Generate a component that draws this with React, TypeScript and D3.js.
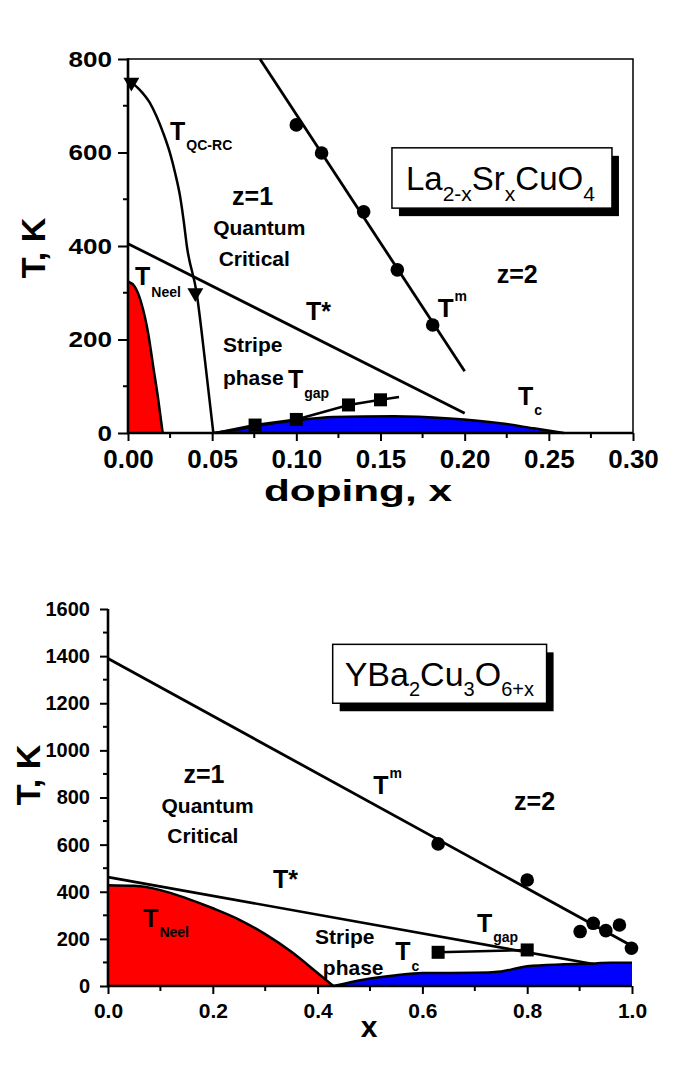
import React, { useEffect, useRef } from "react";
import * as d3 from "d3";

type Pt = [number, number];

// ---------- La2-xSrxCuO4 (top panel) ----------
const lscoTQC: Pt[] = [
  [0.002, 750], [0.007, 734], [0.013, 706], [0.017, 677], [0.021, 641], [0.025, 598],
  [0.028, 556], [0.031, 505], [0.033, 456], [0.035, 399], [0.0408, 299], [0.0457, 156], [0.0507, 0],
];
const lscoTQCMarkers: Pt[] = [[0.002, 750], [0.04, 300]];
const lscoNeel: Pt[] = [
  [0, 324], [0.004, 313], [0.008, 277], [0.012, 213], [0.015, 142], [0.018, 71], [0.0206, 0],
];
const lscoTc: Pt[] = [
  [0.05, 0], [0.0626, 6], [0.0744, 14], [0.1, 27], [0.122, 34], [0.158, 36], [0.191, 31],
  [0.221, 21], [0.241, 10], [0.259, 0],
];
const lscoTgapLine: Pt[] = [[0.052, 0], [0.0755, 17], [0.1, 29], [0.131, 60], [0.15, 71], [0.161, 77]];
const lscoTgapSquares: Pt[] = [[0.0755, 17], [0.1, 29], [0.131, 60], [0.15, 71]];
const lscoTmLine: Pt[] = [[0.0784, 800], [0.2, 132]];
const lscoTmCircles: Pt[] = [[0.1, 659], [0.115, 599], [0.14, 473], [0.16, 349], [0.181, 231]];
const lscoTstar: Pt[] = [[0, 405], [0.2, 42]];
const lscoXTicks = [0, 0.05, 0.1, 0.15, 0.2, 0.25, 0.3];
const lscoXTickLabels = ["0.00", "0.05", "0.10", "0.15", "0.20", "0.25", "0.30"];
const lscoXMinor = [0.025, 0.075, 0.125, 0.175, 0.225, 0.275];
const lscoYTicks = [0, 200, 400, 600, 800];
const lscoYTickLabels = ["0", "200", "400", "600", "800"];
const lscoYMinor = [100, 300, 500, 700];

// ---------- YBa2Cu3O6+x (bottom panel) ----------
const ybcoNeel: Pt[] = [
  [0, 428], [0.05, 425], [0.1, 407], [0.15, 372], [0.2, 330], [0.25, 282], [0.3, 220],
  [0.35, 145], [0.4, 55], [0.43, 0],
];
const ybcoTc: Pt[] = [
  [0.43, 0], [0.49, 28], [0.55, 46], [0.6, 55], [0.7, 56], [0.75, 62], [0.78, 75], [0.8, 84],
  [0.87, 92], [0.93, 96], [0.96, 99], [1.0, 99],
];
const ybcoTmLine: Pt[] = [[0, 1390], [1.0, 170]];
const ybcoTmCircles: Pt[] = [
  [0.63, 603], [0.8, 450], [0.901, 231], [0.926, 266], [0.95, 235], [0.976, 259], [0.999, 160],
];
const ybcoTstar: Pt[] = [[0, 462], [0.926, 93]];
const ybcoTgapSquares: Pt[] = [[0.63, 143], [0.8, 153]];
const ybcoXTicks = [0, 0.2, 0.4, 0.6, 0.8, 1.0];
const ybcoXTickLabels = ["0.0", "0.2", "0.4", "0.6", "0.8", "1.0"];
const ybcoXMinor = [0.1, 0.3, 0.5, 0.7, 0.9];
const ybcoYTicks = [0, 200, 400, 600, 800, 1000, 1200, 1400, 1600];
const ybcoYTickLabels = ["0", "200", "400", "600", "800", "1000", "1200", "1400", "1600"];
const ybcoYMinor = [100, 300, 500, 700, 900, 1100, 1300, 1500];

const FONT = "'Liberation Sans', Arial, Helvetica, sans-serif";

// scales
const xTop = d3.scaleLinear().domain([0, 0.3]).range([128, 633]);
const yTop = d3.scaleLinear().domain([0, 800]).range([433, 59]);
const xBot = d3.scaleLinear().domain([0, 1]).range([108, 632]);
const yBot = d3.scaleLinear().domain([0, 1600]).range([986, 609]);

type Sc = d3.ScaleLinear<number, number>;

function Axes({ x, y, xt, xl, xm, yt, yl, ym, xFont, yFont, yStretch, yMajor, yPad, frame }: any) {
  const ref = useRef<SVGGElement>(null);
  useEffect(() => {
    const g = d3.select(ref.current!);
    g.selectAll("*").remove();
    const [x0, x1] = x.range();
    const [y0, y1] = y.range();
    const xa = d3
      .axisBottom(x)
      .tickValues(xt)
      .tickFormat((_d: any, i: number) => xl[i])
      .tickSize(8)
      .tickPadding(9)
      .tickSizeOuter(0);
    const gx = g.append("g").attr("transform", `translate(0,${y0})`).call(xa as any);
    gx.select(".domain").remove();
    gx.selectAll("line").attr("stroke", "#000").attr("stroke-width", 2);
    gx.selectAll("text")
      .attr("font-family", FONT)
      .attr("font-weight", "bold")
      .attr("font-size", xFont)
      .attr("fill", "#000");
    g.append("g")
      .selectAll("line")
      .data(xm)
      .join("line")
      .attr("x1", (d: any) => x(d))
      .attr("x2", (d: any) => x(d))
      .attr("y1", y0)
      .attr("y2", y0 + 5)
      .attr("stroke", "#000")
      .attr("stroke-width", 2);

    const ya = d3
      .axisLeft(y)
      .tickValues(yt)
      .tickFormat((_d: any, i: number) => yl[i])
      .tickSize(yMajor)
      .tickPadding(yPad)
      .tickSizeOuter(0);
    const gy = g.append("g").attr("transform", `translate(${x0},0)`).call(ya as any);
    gy.select(".domain").remove();
    gy.selectAll("line").attr("stroke", "#000").attr("stroke-width", 2);
    const yt2 = gy
      .selectAll("text")
      .attr("font-family", FONT)
      .attr("font-weight", "bold")
      .attr("font-size", yFont)
      .attr("fill", "#000");
    if (yStretch) {
      yt2.attr("textLength", (_d: any, i: number) => yl[i].length * yStretch).attr("lengthAdjust", "spacingAndGlyphs");
    }
    g.append("g")
      .selectAll("line")
      .data(ym)
      .join("line")
      .attr("x1", x0)
      .attr("x2", x0 - 5)
      .attr("y1", (d: any) => y(d))
      .attr("y2", (d: any) => y(d))
      .attr("stroke", "#000")
      .attr("stroke-width", 2);

    if (frame) {
      g.append("path")
        .attr("d", `M${x0},${y1}H${x1}V${y0}`)
        .attr("fill", "none")
        .attr("stroke", "#000")
        .attr("stroke-width", 1.5);
    }
    g.append("path")
      .attr("d", `M${x0},${y1 - (frame ? 0.75 : 0)}V${y0}H${x1}`)
      .attr("fill", "none")
      .attr("stroke", "#000")
      .attr("stroke-width", 2.6);
  }, []);
  return <g ref={ref} />;
}

function Label({ x, y, main, sub, sup, size = 25, subSize = 14, subDx = 1, subDy = 10, supDy = -16, anchor = "start" }: any) {
  return (
    <text x={x} y={y} fontFamily={FONT} fontWeight="bold" fontSize={size} textAnchor={anchor} fill="#000">
      {main}
      {sub && (
        <tspan fontSize={subSize} dx={subDx} dy={subDy}>
          {sub}
        </tspan>
      )}
      {sup && (
        <tspan fontSize={subSize} dx={subDx} dy={supDy}>
          {sup}
        </tspan>
      )}
    </text>
  );
}

function Box({ x0, y0, x1, y1, children }: any) {
  return (
    <g>
      <rect x={x0 + 7} y={y0 + 8} width={x1 - x0} height={y1 - y0} fill="#000" />
      <rect x={x0} y={y0} width={x1 - x0} height={y1 - y0} fill="#fff" stroke="#000" strokeWidth={1.5} />
      {children}
    </g>
  );
}

export default function App() {
  const lineT = (x: Sc, y: Sc, c: any = d3.curveLinear) =>
    d3.line<Pt>().x((d) => x(d[0])).y((d) => y(d[1])).curve(c);
  const areaT = (x: Sc, y: Sc, c: any = d3.curveLinear) =>
    d3.area<Pt>().x((d) => x(d[0])).y0(y(0)).y1((d) => y(d[1])).curve(c);
  const tri = d3.symbol().type(d3.symbolTriangle).size(110)();
  const sq = 13;

  return (
    <svg
      width={686}
      height={1066}
      style={{ position: "absolute", left: 0, top: 0, background: "#fff" }}
      xmlns="http://www.w3.org/2000/svg"
    >
      <rect width={686} height={1066} fill="#fff" />
      {/* ---------------- Top panel ---------------- */}
      <path d={areaT(xTop, yTop, d3.curveMonotoneX)(lscoNeel)!} fill="#ff0000" />
      <path d={lineT(xTop, yTop, d3.curveMonotoneX)(lscoNeel)!} fill="none" stroke="#000" strokeWidth={2.5} />
      <path d={areaT(xTop, yTop, d3.curveMonotoneX)(lscoTc)!} fill="#0000ff" />
      <path d={lineT(xTop, yTop, d3.curveMonotoneX)(lscoTc)!} fill="none" stroke="#000" strokeWidth={2.5} />
      <path d={lineT(xTop, yTop, d3.curveMonotoneX)(lscoTQC)!} fill="none" stroke="#000" strokeWidth={2.5} />
      <path d={lineT(xTop, yTop)(lscoTstar)!} fill="none" stroke="#000" strokeWidth={2.8} />
      <path d={lineT(xTop, yTop)(lscoTmLine)!} fill="none" stroke="#000" strokeWidth={2.8} />
      <path d={lineT(xTop, yTop)(lscoTgapLine)!} fill="none" stroke="#000" strokeWidth={2.5} />
      {lscoTmCircles.map((d, i) => (
        <circle key={"tc" + i} cx={xTop(d[0])} cy={yTop(d[1])} r={6.8} fill="#000" />
      ))}
      {lscoTgapSquares.map((d, i) => (
        <rect key={"ts" + i} x={xTop(d[0]) - sq / 2} y={yTop(d[1]) - sq / 2} width={sq} height={sq} fill="#000" />
      ))}
      {lscoTQCMarkers.map((d, i) => (
        <path key={"tt" + i} d={tri!} transform={`translate(${xTop(d[0])},${yTop(d[1])}) rotate(180)`} fill="#000" />
      ))}
      <Axes
        x={xTop}
        y={yTop}
        xt={lscoXTicks}
        xl={lscoXTickLabels}
        xm={lscoXMinor}
        yt={lscoYTicks}
        yl={lscoYTickLabels}
        ym={lscoYMinor}
        xFont={26}
        yFont={22}
        yStretch={14.5}
        yMajor={10}
        yPad={6}
        frame={true}
      />
      <Label x={xTop(0.025)} y={yTop(627)} main="T" sub="QC-RC" />
      <Label x={xTop(0.074)} y={yTop(488)} main="z=1" anchor="middle" />
      <Label x={xTop(0.078)} y={yTop(424)} main="Quantum" size={21} anchor="middle" />
      <Label x={xTop(0.075)} y={yTop(357)} main="Critical" size={21} anchor="middle" />
      <Label x={xTop(0.0042)} y={yTop(317)} main="T" sub="Neel" subDy={12} />
      <Label x={xTop(0.1057)} y={yTop(242)} main="T*" />
      <Label x={xTop(0.0564)} y={yTop(173)} main="Stripe" size={21} />
      <Label x={xTop(0.0564)} y={yTop(103)} main="phase" size={21} />
      <Label x={xTop(0.095)} y={yTop(96)} main="T" sub="gap" />
      <Label x={xTop(0.184)} y={yTop(248)} main="T" sup="m" size={26} />
      <Label x={xTop(0.219)} y={yTop(321)} main="z=2" />
      <Label x={xTop(0.2317)} y={yTop(60)} main="T" sub="c" />
      <Box x0={xTop(0.1568)} y0={yTop(610)} x1={xTop(0.2875)} y1={yTop(481)}>
        <text x={xTop(0.1568) + 14} y={yTop(520)} fontFamily={FONT} fontSize={33} fill="#000">
          La
          <tspan fontSize={21} dy={11}>2-x</tspan>
          <tspan dy={-11}>Sr</tspan>
          <tspan fontSize={21} dy={11}>x</tspan>
          <tspan dy={-11}>CuO</tspan>
          <tspan fontSize={21} dy={11}>4</tspan>
        </text>
      </Box>
      <text
        transform="translate(45,248) rotate(-90)"
        textAnchor="middle"
        fontFamily={FONT}
        fontWeight="bold"
        fontSize={34}
        fill="#000"
      >
        T, K
      </text>
      <text
        x={358}
        y={501}
        textAnchor="middle"
        fontFamily={FONT}
        fontWeight="bold"
        fontSize={29}
        textLength={188}
        lengthAdjust="spacingAndGlyphs"
        fill="#000"
      >
        doping, x
      </text>

      {/* ---------------- Bottom panel ---------------- */}
      <path d={areaT(xBot, yBot, d3.curveMonotoneX)(ybcoNeel)!} fill="#ff0000" />
      <path d={lineT(xBot, yBot, d3.curveMonotoneX)(ybcoNeel)!} fill="none" stroke="#000" strokeWidth={2.5} />
      <path d={areaT(xBot, yBot, d3.curveMonotoneX)(ybcoTc)!} fill="#0000ff" />
      <path d={lineT(xBot, yBot, d3.curveMonotoneX)(ybcoTc)!} fill="none" stroke="#000" strokeWidth={2.5} />
      <path d={lineT(xBot, yBot)(ybcoTstar)!} fill="none" stroke="#000" strokeWidth={2.6} />
      <path d={lineT(xBot, yBot)(ybcoTmLine)!} fill="none" stroke="#000" strokeWidth={2.8} />
      <path d={lineT(xBot, yBot)(ybcoTgapSquares)!} fill="none" stroke="#000" strokeWidth={2.5} />
      {ybcoTmCircles.map((d, i) => (
        <circle key={"bc" + i} cx={xBot(d[0])} cy={yBot(d[1])} r={6.8} fill="#000" />
      ))}
      {ybcoTgapSquares.map((d, i) => (
        <rect key={"bs" + i} x={xBot(d[0]) - sq / 2} y={yBot(d[1]) - sq / 2} width={sq} height={sq} fill="#000" />
      ))}
      <Axes
        x={xBot}
        y={yBot}
        xt={ybcoXTicks}
        xl={ybcoXTickLabels}
        xm={ybcoXMinor}
        yt={ybcoYTicks}
        yl={ybcoYTickLabels}
        ym={ybcoYMinor}
        xFont={21}
        yFont={20}
        yStretch={0}
        yMajor={8}
        yPad={10}
        frame={false}
      />
      <Label x={xBot(0.183)} y={yBot(862)} main="z=1" anchor="middle" />
      <Label x={xBot(0.19)} y={yBot(734)} main="Quantum" size={21} anchor="middle" />
      <Label x={xBot(0.181)} y={yBot(607)} main="Critical" size={21} anchor="middle" />
      <Label x={xBot(0.315)} y={yBot(416)} main="T*" />
      <Label x={xBot(0.067)} y={yBot(250)} main="T" sub="Neel" />
      <Label x={xBot(0.395)} y={yBot(178)} main="Stripe" size={21} />
      <Label x={xBot(0.41)} y={yBot(47)} main="phase" size={21} />
      <Label x={xBot(0.548)} y={yBot(110)} main="T" sub="c" subDy={11} />
      <Label x={xBot(0.704)} y={yBot(229)} main="T" sub="gap" />
      <Label x={xBot(0.506)} y={yBot(815)} main="T" sup="m" />
      <Label x={xBot(0.775)} y={yBot(747)} main="z=2" />
      <Box x0={xBot(0.4288)} y0={yBot(1450)} x1={xBot(0.837)} y1={yBot(1200)}>
        <text x={xBot(0.4288) + 12} y={yBot(1273)} fontFamily={FONT} fontSize={34} fill="#000">
          YBa
          <tspan fontSize={20} dy={10}>2</tspan>
          <tspan dy={-10}>Cu</tspan>
          <tspan fontSize={20} dy={10}>3</tspan>
          <tspan dy={-10}>O</tspan>
          <tspan fontSize={20} dy={10}>6+x</tspan>
        </text>
      </Box>
      <text
        transform="translate(40,775) rotate(-90)"
        textAnchor="middle"
        fontFamily={FONT}
        fontWeight="bold"
        fontSize={34}
        fill="#000"
      >
        T, K
      </text>
      <text x={369} y={1037} textAnchor="middle" fontFamily={FONT} fontWeight="bold" fontSize={30} fill="#000">
        x
      </text>
    </svg>
  );
}
